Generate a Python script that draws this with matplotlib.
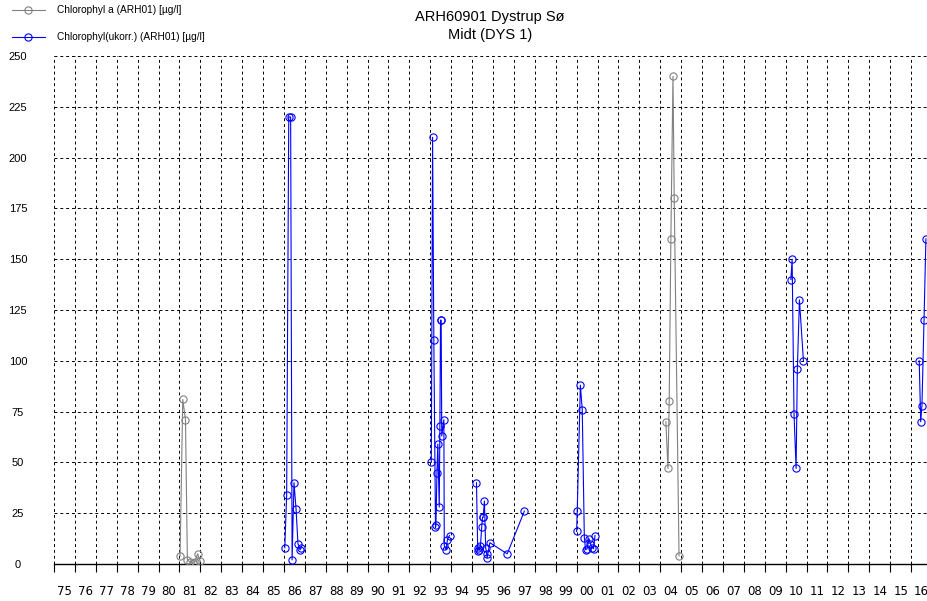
import matplotlib

matplotlib.use("Agg")

import matplotlib.pyplot as plt
import numpy as np

plt.rcParams["font.family"] = ["Liberation Sans", "DejaVu Sans"]

# decimal years and values
chl_a_dates = [1981.03, 1981.16, 1981.29, 1981.38, 1981.51, 1981.63, 1981.74, 1981.87, 1981.99,
               2004.27, 2004.37, 2004.43, 2004.51, 2004.61, 2004.67, 2004.90]
chl_a_values = [4, 81, 71, 2, 1, 0.5, 1, 5, 1.5,
                70, 47, 80, 160, 240, 180, 4]

chl_uk_dates = [1986.04, 1986.13, 1986.23, 1986.32, 1986.39, 1986.48, 1986.58, 1986.67, 1986.77, 1986.83,
                1993.05, 1993.11, 1993.17, 1993.25, 1993.27, 1993.32, 1993.36, 1993.43, 1993.46,
                1993.49, 1993.52, 1993.55, 1993.65, 1993.67, 1993.76, 1993.82, 1993.92,
                1995.21, 1995.27, 1995.30, 1995.35, 1995.40, 1995.46, 1995.50, 1995.53, 1995.59,
                1995.65, 1995.70, 1995.72, 1995.85, 1996.68, 1997.50,
                2000.00, 2000.03, 2000.18, 2000.27, 2000.37, 2000.43, 2000.50, 2000.59, 2000.66,
                2000.75, 2000.81, 2000.88,
                2010.25, 2010.31, 2010.40, 2010.50, 2010.56, 2010.66, 2010.85,
                2016.39, 2016.46, 2016.52, 2016.62, 2016.71]
chl_uk_values = [8, 34, 220, 220, 2, 40, 27, 10, 7, 8,
                 50, 210, 110, 18, 19, 45, 59, 28, 68,
                 120, 120, 63, 71, 9, 7, 12, 14,
                 40, 6.5, 8, 7, 9, 18, 23, 23, 31,
                 8, 5, 3, 10.5, 5, 26,
                 16, 26, 88, 76, 13, 7, 7.5, 12.5, 10,
                 8, 7.5, 14,
                 140, 150, 74, 47, 96, 130, 100,
                 100, 70, 78, 120, 160]

year_labels = ["75", "76", "77", "78", "79", "80", "81", "82", "83", "84", "85", "86", "87", "88",
               "89", "90", "91", "92", "93", "94", "95", "96", "97", "98", "99", "00", "01", "02",
               "03", "04", "05", "06", "07", "08", "09", "10", "11", "12", "13", "14", "15", "16"]
y_ticks = [0, 25, 50, 75, 100, 125, 150, 175, 200, 225, 250]


def with_gaps(dates, values, max_gap=1.0):
    # break the line where there is more than a year between samples
    x = np.asarray(dates, dtype=float)
    y = np.asarray(values, dtype=float)
    breaks = np.where(np.diff(x) > max_gap)[0] + 1
    return np.insert(x, breaks, np.nan), np.insert(y, breaks, np.nan)


fig = plt.figure(figsize=(9.28, 6.01), dpi=100)
ax = fig.add_axes([54 / 928, 37 / 601, 874 / 928, 508 / 601])

style = dict(linewidth=0.8, marker="o", markersize=5.2, markerfacecolor="none",
             markeredgewidth=0.8, zorder=3)
x, y = with_gaps(chl_a_dates, chl_a_values)
ax.plot(x, y, color="#808080", **style)
x, y = with_gaps(chl_uk_dates, chl_uk_values)
ax.plot(x, y, color="#0000ff", **style)

ax.set_xlim(1975, 2016.81)
ax.set_ylim(0, 250)

years = np.arange(1975, 2017)
ax.set_xticks(years)
ax.set_xticklabels([])
ax.set_xticks(years + 0.5, minor=True)
ax.set_xticklabels(year_labels, minor=True, family=["Liberation Sans Narrow", "DejaVu Sans"])
ax.tick_params(axis="x", which="major", direction="out", length=6, width=0.8, color="black")
ax.tick_params(axis="x", which="minor", length=0, pad=15, labelsize=8.5)

ax.set_yticks(y_ticks)
ax.set_yticklabels([str(v) for v in y_ticks], ha="center")
ax.tick_params(axis="y", length=0, pad=26, labelsize=8)

ax.grid(True, which="major", color="black", linestyle=(0, (3, 3)), linewidth=0.7)
ax.spines[["top", "right", "left"]].set_visible(False)
ax.spines["bottom"].set_linewidth(1)

fig.text(0.528, 0.972, "ARH60901 Dystrup Sø", ha="center", va="center", fontsize=10.5)
fig.text(0.528, 0.941, "Midt (DYS 1)", ha="center", va="center", fontsize=10.5)

# legend drawn in figure pixels, top left
for row, (label, color) in enumerate([("Chlorophyl a (ARH01) [µg/l]", "#808080"),
                                      ("Chlorophyl(ukorr.) (ARH01) [µg/l]", "#0000ff")]):
    yy = 1 - (10 + row * 26.5) / 601
    fig.add_artist(plt.Line2D([12 / 928, 45 / 928], [yy, yy], color=color, linewidth=0.8,
                              transform=fig.transFigure))
    fig.add_artist(plt.Line2D([28 / 928], [yy], color=color, marker="o", markersize=5.2,
                              markerfacecolor="none", markeredgewidth=0.8,
                              transform=fig.transFigure))
    fig.text(57 / 928, yy, label, ha="left", va="center", fontsize=7.3)

fig.savefig("out.png", dpi=100)
